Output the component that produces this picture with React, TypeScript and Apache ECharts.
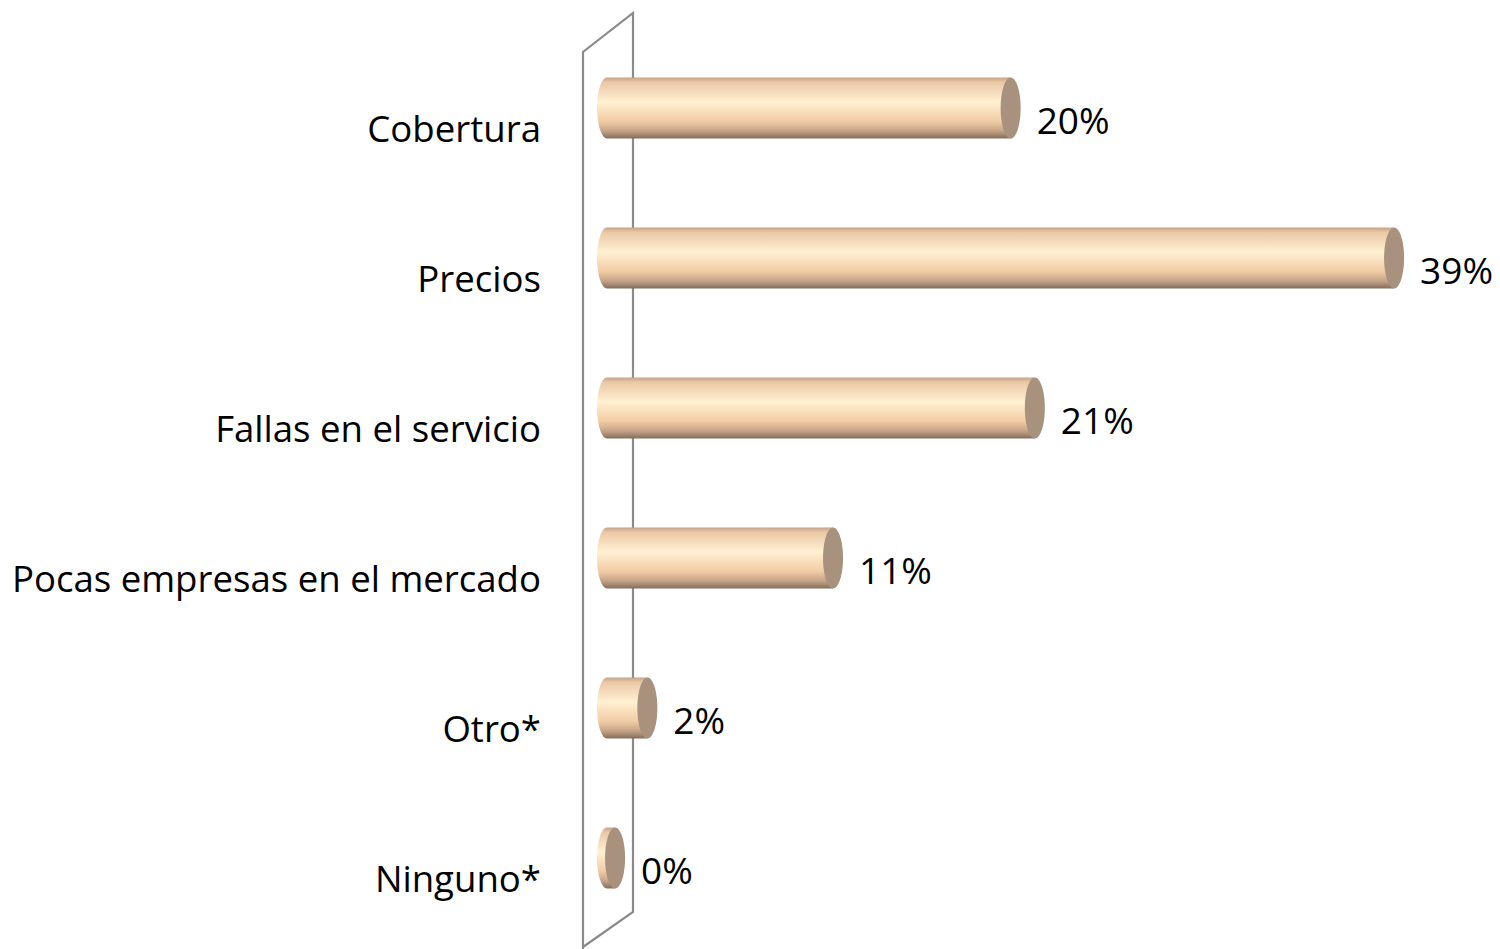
import React, { useEffect, useRef } from "react";
import * as echarts from "echarts";

const categories = [
  "Cobertura",
  "Precios",
  "Fallas en el servicio",
  "Pocas empresas en el mercado",
  "Otro*",
  "Ninguno*",
];
const values = [0.2, 0.39, 0.212, 0.112, 0.02, 0.004];

const FONT = "'Open Sans', 'Noto Sans', sans-serif";
const BODY_GRADIENT = [
  { offset: 0, color: "#c4a38a" },
  { offset: 0.08, color: "#ebc8a6" },
  { offset: 0.4, color: "#fff0d2" },
  { offset: 0.72, color: "#f2cba5" },
  { offset: 0.88, color: "#c3a286" },
  { offset: 1, color: "#836d5b" },
];

export default function App() {
  const ref = useRef<HTMLDivElement>(null);
  useEffect(() => {
    if (!ref.current) return;
    const chart = echarts.init(ref.current, null, { renderer: "svg" });
    const option: any = {
      animation: false,
      backgroundColor: "#ffffff",
      grid: { left: 607, right: 5, top: 33, bottom: 16, containLabel: false },
      xAxis: {
        type: "value",
        min: 0,
        max: 0.44,
        show: false,
      },
      yAxis: {
        type: "category",
        data: categories,
        inverse: true,
        axisLine: { show: false },
        axisTick: { show: false },
        splitLine: { show: false },
        axisLabel: {
          margin: 66,
          fontFamily: FONT,
          fontSize: 36.6,
          color: "#000000",
          verticalAlign: "top",
          lineHeight: 39,
        },
      },
      graphic: [
        {
          type: "polyline",
          z: 0,
          shape: {
            points: [
              [583, 949],
              [583, 52],
              [633, 13],
              [633, 912],
              [583, 947],
            ],
          },
          style: { stroke: "#8a8a8a", lineWidth: 2.2, fill: "none" },
        },
      ],
      series: [
        {
          type: "custom",
          z: 10,
          data: values.map((v, i) => [v, i]),
          encode: { x: 0, y: 1 },
          renderItem: (params: any, api: any) => {
            const v = api.value(0);
            const idx = api.value(1);
            const s = api.coord([0, idx]);
            const e = api.coord([v, idx]);
            const h = 61;
            const ry = h / 2;
            const rx = 10;
            const cx0 = s[0];
            const cx1 = e[0];
            const cy = s[1];
            const pathData = `M ${cx0} ${cy - ry} L ${cx1} ${cy - ry} L ${cx1} ${cy + ry} L ${cx0} ${cy + ry} A ${rx} ${ry} 0 0 1 ${cx0} ${cy - ry} Z`;
            return {
              type: "group",
              children: [
                {
                  type: "path",
                  shape: { pathData },
                  style: {
                    fill: {
                      type: "linear",
                      x: 0,
                      y: 0,
                      x2: 0,
                      y2: 1,
                      colorStops: BODY_GRADIENT,
                    },
                  },
                },
                {
                  type: "ellipse",
                  shape: { cx: cx1, cy, rx, ry },
                  style: { fill: "#a8917d" },
                },
                {
                  type: "text",
                  style: {
                    text: Math.round(v * 100) + "%",
                    x: cx1 + rx + 16,
                    y: cy + 11,
                    verticalAlign: "middle",
                    align: "left",
                    fontFamily: FONT,
                    fontSize: 37,
                    fill: "#000000",
                  },
                },
              ],
            };
          },
        },
      ],
    };
    chart.setOption(option);
    return () => chart.dispose();
  }, []);
  return (
    <div
      ref={ref}
      style={{ position: "fixed", left: 0, top: 0, width: 1500, height: 949 }}
    />
  );
}
